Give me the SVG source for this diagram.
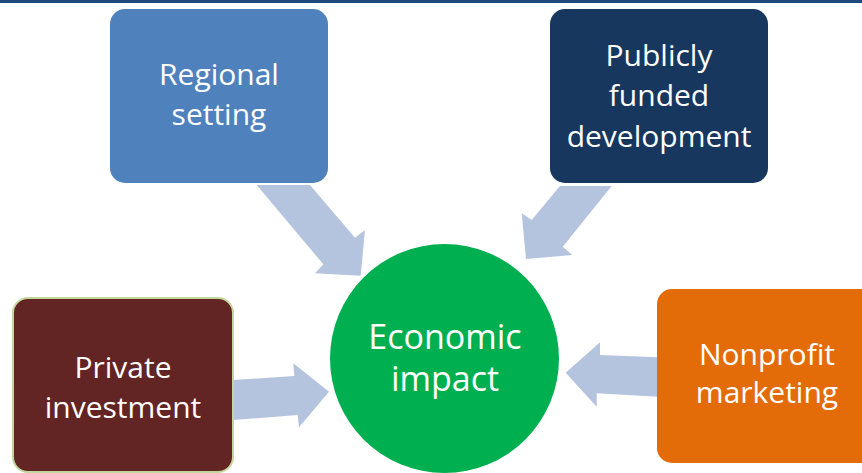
<svg xmlns="http://www.w3.org/2000/svg" width="862" height="473" viewBox="0 0 862 473">
  <style>
    .lbl { font-family: "Open Sans", "Noto Sans", "DejaVu Sans", sans-serif; font-size: 30px; fill: #FFFFFF; text-anchor: middle; }
    .big { font-size: 34px; }
    .arrow { fill: #B4C3DE; }
  </style>
  <rect x="0" y="0" width="862" height="3" fill="#1F497D"/>
  <g id="connectors">
    <polygon class="arrow" points="256.7,185 310,185 355,237.7 365,230 360.7,275.7 315,273.3 323.3,264.3"/>
    <polygon class="arrow" points="611.7,186 560,186 531.7,220 521.7,213.3 526,259 572.3,255 562.7,246.7"/>
    <polygon class="arrow" points="233,380 294.3,376 293.3,363.3 329,391.7 299,427.3 297.7,415 233,420"/>
    <polygon class="arrow" points="658,357.3 600,355 600,342.3 565.7,372.7 596.7,406.7 596.7,393.3 658,396.7"/>
  </g>
  <g id="regional">
    <rect x="110" y="9" width="218" height="174" rx="15" fill="#4F81BD"/>
    <text class="lbl" x="219" y="85">Regional</text>
    <text class="lbl" x="219" y="125">setting</text>
  </g>
  <g id="publicly">
    <rect x="550" y="9" width="218" height="174" rx="15" fill="#17375E"/>
    <text class="lbl" x="659" y="66">Publicly</text>
    <text class="lbl" x="659" y="106">funded</text>
    <text class="lbl" x="659" y="146.5">development</text>
  </g>
  <g id="private">
    <rect x="13" y="298" width="220" height="174" rx="15" fill="#632523" stroke="#C3D69B" stroke-width="2"/>
    <text class="lbl" x="123" y="378">Private</text>
    <text class="lbl" x="123" y="418">investment</text>
  </g>
  <g id="nonprofit">
    <rect x="657" y="289" width="222" height="174" rx="15" fill="#E36C09"/>
    <text class="lbl" x="767" y="365">Nonprofit</text>
    <text class="lbl" x="767" y="403">marketing</text>
  </g>
  <g id="economic">
    <circle cx="444.5" cy="358.5" r="114.5" fill="#00B050"/>
    <text class="lbl big" x="445" y="348.5">Economic</text>
    <text class="lbl big" x="445" y="390.5">impact</text>
  </g>
</svg>
